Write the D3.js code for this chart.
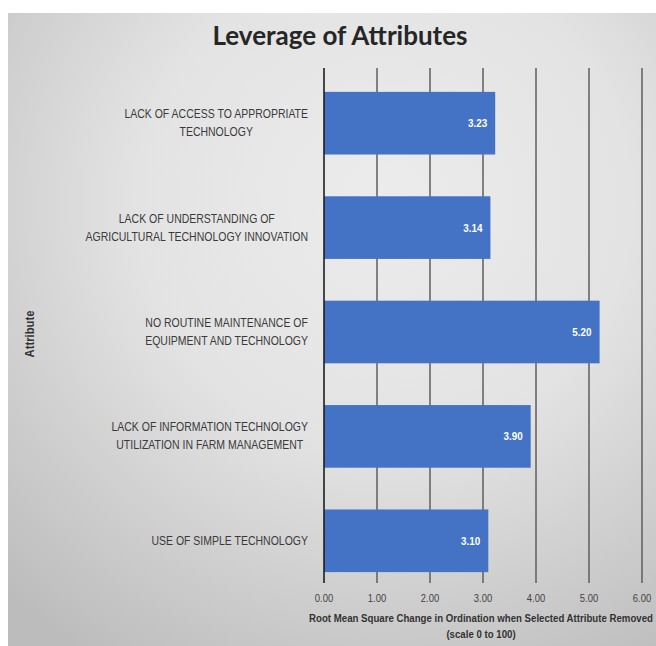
<!DOCTYPE html>
<html>
<head>
<meta charset="utf-8">
<script src="https://cdn.jsdelivr.net/npm/d3@7"></script>
<style>
  html, body { margin: 0; padding: 0; background: #ffffff; }
  svg { display: block; }
</style>
</head>
<body>
<svg id="chart" width="656" height="646"></svg>
<script>
// Attribute names (top to bottom) and their leverage values
const attributes = [
  "LACK OF ACCESS TO APPROPRIATE\nTECHNOLOGY",
  "LACK OF UNDERSTANDING OF\nAGRICULTURAL TECHNOLOGY INNOVATION",
  "NO ROUTINE MAINTENANCE OF\nEQUIPMENT AND TECHNOLOGY",
  "LACK OF INFORMATION TECHNOLOGY\nUTILIZATION IN FARM MANAGEMENT",
  "USE OF SIMPLE TECHNOLOGY"
];
const leverage = [3.23, 3.14, 5.20, 3.90, 3.10];
const xTicks = [0, 1, 2, 3, 4, 5, 6];
const chartTitle = "Leverage of Attributes";
const xTitle = ["Root Mean Square Change in Ordination when Selected Attribute Removed", "(scale 0 to 100)"];
const yTitle = "Attribute";

const svg = d3.select("#chart");
const W = 656, H = 646;
const font = "'Liberation Sans', Arial, sans-serif";
const squeeze = 0.86; // condensed look for small labels

// place a horizontally condensed text
function condensed(parent, cx, cy, str, opts) {
  const g = parent.append("g").attr("transform", `translate(${cx},${cy}) scale(${opts.sx || squeeze},1)`);
  return g.append("text")
    .attr("text-anchor", opts.anchor || "middle")
    .attr("font-family", font)
    .attr("font-size", opts.size)
    .attr("font-weight", opts.weight || "normal")
    .attr("fill", opts.fill)
    .text(str);
}

// soft grey panel background
const defs = svg.append("defs");
const grad = defs.append("radialGradient")
  .attr("id", "bg").attr("cx", "58%").attr("cy", "30%").attr("r", "85%");
grad.append("stop").attr("offset", "0%").attr("stop-color", "#ececec");
grad.append("stop").attr("offset", "45%").attr("stop-color", "#e3e3e3");
grad.append("stop").attr("offset", "100%").attr("stop-color", "#bcbcbc");
svg.append("rect").attr("x", 8).attr("y", 13).attr("width", W - 8).attr("height", H - 13)
  .attr("fill", "url(#bg)");

const x = d3.scaleLinear().domain([0, 6]).range([324, 642]);
const y = d3.scaleBand().domain(d3.range(attributes.length))
  .range([71, 593]).paddingInner(0.4).paddingOuter(0.2);

const gridTop = 68, gridBottom = 583;

// vertical gridlines
svg.append("g").selectAll("line").data(xTicks.filter(d => d > 0)).join("line")
  .attr("x1", d => x(d)).attr("x2", d => x(d))
  .attr("y1", gridTop).attr("y2", gridBottom)
  .attr("stroke", "#5e5e5e").attr("stroke-width", 1.5);

// bars
svg.append("g").selectAll("rect").data(leverage).join("rect")
  .attr("x", x(0))
  .attr("y", (d, i) => y(i))
  .attr("width", d => x(d) - x(0))
  .attr("height", y.bandwidth())
  .attr("fill", "#4472c4");

// zero axis line
svg.append("line")
  .attr("x1", x(0)).attr("x2", x(0)).attr("y1", gridTop).attr("y2", gridBottom)
  .attr("stroke", "#1e1e1e").attr("stroke-width", 1.6);

// value labels inside bar ends
const gv = svg.append("g");
leverage.forEach((d, i) => {
  condensed(gv, x(d) - 8, y(i) + y.bandwidth() / 2 + 4, d.toFixed(2),
    { anchor: "end", size: 11.5, weight: "bold", fill: "#ffffff" });
});

// x tick labels
const gt = svg.append("g");
xTicks.forEach(t => {
  condensed(gt, x(t), gridBottom + 19, d3.format(".2f")(t),
    { size: 11, fill: "#444" });
});

// category labels: block right-aligned to the axis, lines centred in the block
const labelRight = 308, lineGap = 18, labelSx = 0.84;
attributes.forEach((name, i) => {
  const lines = name.split("\n");
  const g = svg.append("g");
  const cy = y(i) + y.bandwidth() / 2;
  const rows = lines.map((ln, k) => {
    const ty = cy + (k - (lines.length - 1) / 2) * lineGap + 4;
    const t = condensed(g, 0, ty, ln, { size: 12.5, fill: "#3a3a3a", sx: labelSx });
    return { t, ty };
  });
  const wMax = d3.max(rows, r => r.t.node().getComputedTextLength()) * labelSx;
  rows.forEach(r => {
    d3.select(r.t.node().parentNode)
      .attr("transform", `translate(${labelRight - wMax / 2},${r.ty}) scale(${labelSx},1)`);
  });
});

// chart title
svg.append("text")
  .attr("x", 340).attr("y", 45)
  .attr("text-anchor", "middle")
  .attr("font-family", "Lato, 'Open Sans', sans-serif")
  .attr("font-weight", "bold")
  .attr("font-size", 26)
  .attr("fill", "#262626")
  .text(chartTitle);

// axis titles
const ga = svg.append("g");
xTitle.forEach((s, i) => {
  condensed(ga, 481, 622 + i * 16, s, { size: 10.5, weight: "bold", fill: "#333", sx: 0.92 });
});

svg.append("text")
  .attr("transform", `translate(34, 334) rotate(-90) scale(0.9,1)`)
  .attr("text-anchor", "middle")
  .attr("font-family", font)
  .attr("font-weight", "bold")
  .attr("font-size", 12.5)
  .attr("fill", "#333")
  .text(yTitle);
</script>
</body>
</html>
